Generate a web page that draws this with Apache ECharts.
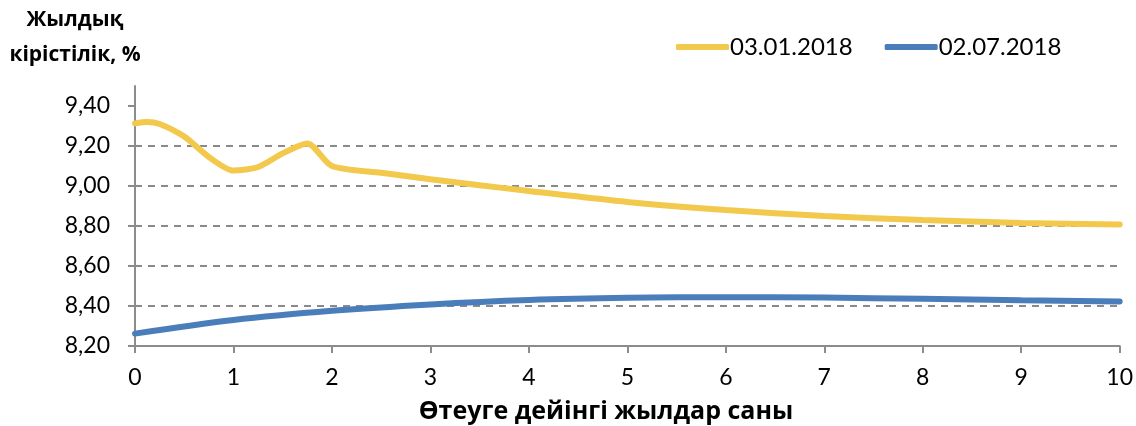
<!DOCTYPE html>
<html>
<head>
<meta charset="utf-8">
<script src="https://cdn.jsdelivr.net/npm/echarts@6/dist/echarts.min.js"></script>
<style>
  html, body { margin: 0; padding: 0; background: #fff; }
  #chart { width: 1136px; height: 426px; }
</style>
</head>
<body>
<div id="chart"></div>
<script>
// ---- data ----
const yTitle = 'Жылдық\nкірістілік, %';
const xTitle = 'Өтеуге дейінгі жылдар саны';
const seriesNames = ['03.01.2018', '02.07.2018'];

const yellowX = [0, 0.12, 0.25, 0.5, 0.75, 1, 1.25, 1.5, 1.75, 2, 2.5, 3, 3.5, 4, 5, 6, 7, 8, 9, 10];
const yellowY = [9.313, 9.32, 9.31, 9.247, 9.145, 9.077, 9.095, 9.163, 9.213, 9.10, 9.066, 9.034, 9.004, 8.975, 8.92, 8.88, 8.85, 8.83, 8.815, 8.808];

const blueX = [0, 1, 2, 3, 4, 5, 6, 7, 8, 9, 10];
const blueY = [8.262, 8.33, 8.376, 8.408, 8.43, 8.441, 8.444, 8.442, 8.436, 8.429, 8.423];

const xTicks = [0, 1, 2, 3, 4, 5, 6, 7, 8, 9, 10];
const yTicks = [8.2, 8.4, 8.6, 8.8, 9.0, 9.2, 9.4];

// ---- chart ----
const FONT = 'Lato, "Noto Sans", sans-serif';
const BOLD_FONT = '"Open Sans", "Noto Sans", sans-serif';
const chart = echarts.init(document.getElementById('chart'), null, { renderer: 'canvas' });

function pairs(xs, ys) { return xs.map((x, i) => [x, ys[i]]); }

const option = {
  backgroundColor: '#ffffff',
  animation: false,
  grid: { left: 135, right: 16, top: 86, bottom: 80, containLabel: false },
  legend: {
    left: 671,
    top: 30,
    itemWidth: 53,
    itemHeight: 6,
    itemGap: 32,
    icon: 'roundRect',
    textStyle: { fontFamily: FONT, fontSize: 24, color: '#000', padding: [0, 0, 0, -4] },
    data: seriesNames
  },
  graphic: [{
    type: 'text',
    x: 75,
    y: 38,
    style: {
      text: yTitle,
      align: 'center',
      verticalAlign: 'middle',
      font: 'bold 21px ' + BOLD_FONT,
      lineHeight: 35,
      fill: '#000'
    }
  }, {
    type: 'text',
    x: 606,
    y: 412,
    style: {
      text: xTitle,
      align: 'center',
      verticalAlign: 'middle',
      font: 'bold 25px ' + BOLD_FONT,
      fill: '#000'
    }
  }],
  xAxis: {
    type: 'value',
    min: 0,
    max: 10,
    interval: 1,
    axisLine: { show: true, lineStyle: { color: '#8c8c8c', width: 2 } },
    axisTick: { show: true, length: 7, lineStyle: { color: '#8c8c8c', width: 2 }, customValues: xTicks },
    axisLabel: { customValues: xTicks, fontFamily: FONT, fontSize: 23, color: '#000', margin: 20 },
    splitLine: { show: false }
  },
  yAxis: {
    type: 'value',
    min: 8.2,
    max: 9.5,
    interval: 0.2,
    axisLine: { show: true, lineStyle: { color: '#8c8c8c', width: 2 } },
    axisTick: { show: true, length: 7, lineStyle: { color: '#8c8c8c', width: 2 }, customValues: yTicks },
    axisLabel: {
      customValues: yTicks,
      fontFamily: FONT, fontSize: 23, color: '#000', margin: 25,
      formatter: v => v.toFixed(2).replace('.', ',')
    },
    splitLine: {
      show: true,
      showMinLine: false,
      showMaxLine: false,
      lineStyle: { color: '#8a8a8a', width: 2, type: [7, 6] }
    }
  },
  series: [
    {
      name: seriesNames[0],
      type: 'line',
      data: pairs(yellowX, yellowY),
      smooth: 0.25,
      showSymbol: false,
      symbol: 'none',
      color: '#F2C94C',
      lineStyle: { color: '#F2C94C', width: 6, cap: 'round' },
      z: 3
    },
    {
      name: seriesNames[1],
      type: 'line',
      data: pairs(blueX, blueY),
      smooth: 0.35,
      showSymbol: false,
      symbol: 'none',
      color: '#4A7EBB',
      lineStyle: { color: '#4A7EBB', width: 6, cap: 'round' },
      z: 3
    }
  ]
};
chart.setOption(option);
</script>
</body>
</html>
